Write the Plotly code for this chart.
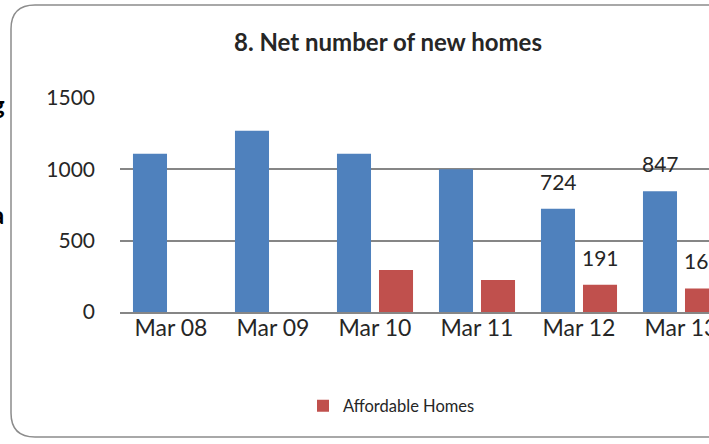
import plotly.graph_objects as go

categories = ["Mar 08", "Mar 09", "Mar 10", "Mar 11", "Mar 12", "Mar 13"]
net_homes = [1110, 1270, 1110, 1000, 724, 847]
affordable = [None, None, 295, 225, 191, 165]
net_labels = [None, None, None, None, "724", "847"]
aff_labels = [None, None, None, None, "191", "165"]
y_ticks = [0, 500, 1000, 1500]

BLUE = "#4F81BD"
RED = "#C0504D"
FONT = "Lato"
W, H = 709, 444
ML, MT, MB = 120, 98, 132
PW = W - ML
PH = H - MT - MB
SLOT = 102.0


def px_x(p):
    return (p - ML) / PW


def px_y(p):
    return (H - MB - p) / PH


fig = go.Figure()
fig.add_trace(go.Bar(x=categories, y=net_homes, name="Net new homes",
                     marker=dict(color=BLUE, line=dict(width=0)),
                     showlegend=False, cliponaxis=True))
fig.add_trace(go.Bar(x=categories, y=affordable, name="Affordable Homes",
                     marker=dict(color=RED, line=dict(width=0)),
                     showlegend=True, cliponaxis=True))

# data labels (Excel-style outside end labels)
for i, (lab, v) in enumerate(zip(net_labels, net_homes)):
    if lab:
        fig.add_annotation(x=categories[i], y=v, text=lab, showarrow=False,
                           xshift=-21, yanchor="bottom", yshift=13,
                           font=dict(family=FONT, size=21, color="#262626"))
for i, (lab, v) in enumerate(zip(aff_labels, affordable)):
    if lab:
        fig.add_annotation(x=categories[i], y=v, text=lab, showarrow=False,
                           xshift=21, yanchor="bottom", yshift=13,
                           font=dict(family=FONT, size=21, color="#262626"))

# title
fig.add_annotation(xref="paper", yref="paper", x=px_x(388), y=px_y(42),
                   text="<b>8. Net number of new homes</b>", showarrow=False,
                   xanchor="center", yanchor="middle",
                   font=dict(family=FONT, size=24, color="#262626"))

# cut-off surrounding document text
fig.add_annotation(xref="paper", yref="paper", x=px_x(7), y=px_y(104),
                   text="<b>g</b>", showarrow=False, xanchor="right", yanchor="middle",
                   font=dict(family=FONT, size=24, color="#000000"))
fig.add_annotation(xref="paper", yref="paper", x=px_x(6), y=px_y(214),
                   text="<b>a</b>", showarrow=False, xanchor="right", yanchor="middle",
                   font=dict(family=FONT, size=24, color="#000000"))

# rounded chart border, open on the right (continues beyond the crop)
r = 24
x0, x1 = px_x(11), px_x(740)
y0, y1 = px_y(437), px_y(5)
rx, ry = r / PW, r / PH
path = (f"M {x1},{y1} L {x0+rx},{y1} Q {x0},{y1} {x0},{y1-ry} "
        f"L {x0},{y0+ry} Q {x0},{y0} {x0+rx},{y0} L {x1},{y0}")
fig.add_shape(type="path", xref="paper", yref="paper", path=path,
              line=dict(color="#8C8C8C", width=1.5), fillcolor="rgba(0,0,0,0)",
              layer="above")

fig.update_layout(
    width=W, height=H,
    margin=dict(l=ML, r=0, t=MT, b=MB, pad=0),
    paper_bgcolor="white", plot_bgcolor="white",
    barmode="group", bargap=0.176, bargroupgap=0.19,
    font=dict(family=FONT, size=18, color="#262626"),
    legend=dict(orientation="h", x=px_x(303), y=px_y(406), xanchor="left",
                yanchor="middle", font=dict(family=FONT, size=16.5, color="#262626"),
                bgcolor="rgba(0,0,0,0)", itemwidth=30),
    xaxis=dict(range=[-0.5, -0.5 + PW / SLOT], showgrid=False, showline=True,
               linecolor="#868686", linewidth=2, ticks="", ticklen=0,
               fixedrange=True, ticklabelstandoff=-6, automargin=False,
               tickfont=dict(family=FONT, size=23, color="#262626")),
    yaxis=dict(range=[0, 1500], tickvals=y_ticks, showgrid=True,
               gridcolor="#868686", gridwidth=1.5, zeroline=False, showline=False,
               ticks="", ticklen=0, ticklabelstandoff=24, automargin=False,
               fixedrange=True,
               tickfont=dict(family=FONT, size=21, color="#262626")),
)

fig.write_html("out.html", config={"displayModeBar": False},
               post_script="document.body.style.margin='0px';"
                           "document.body.style.overflow='hidden';")
